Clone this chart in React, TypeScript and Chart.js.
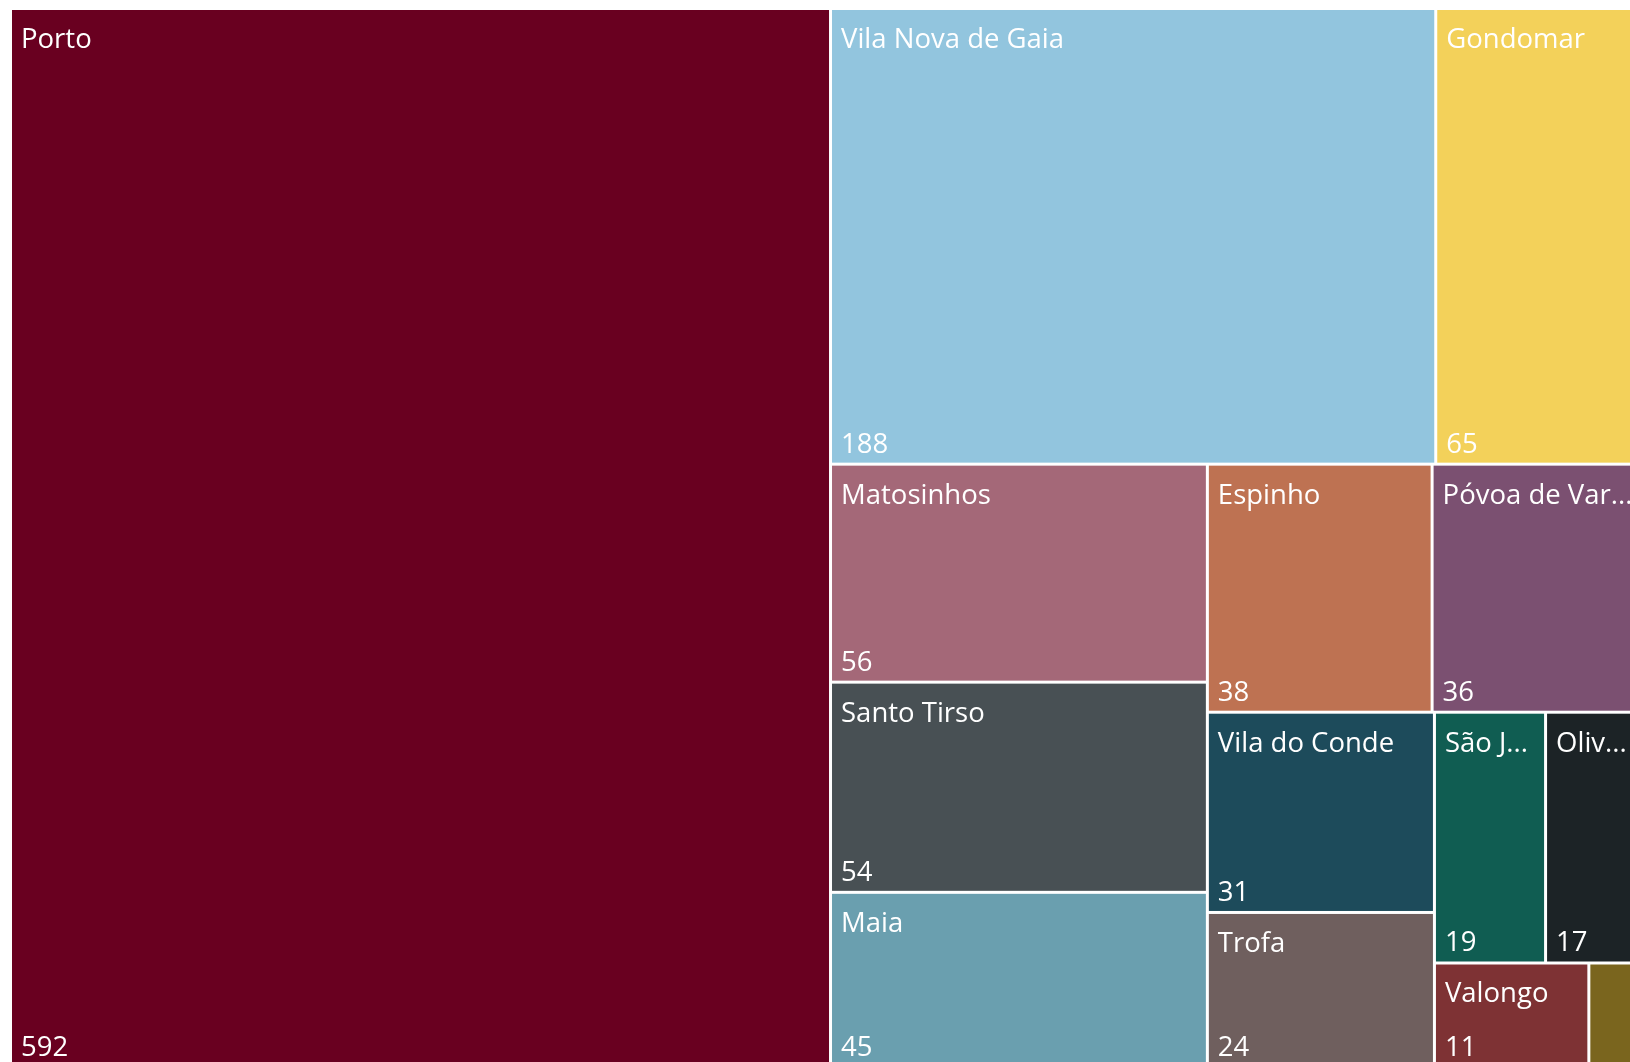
import { useEffect, useRef } from "react";
import { Chart, registerables } from "chart.js";

Chart.register(...registerables);

const categories = [
  "Porto",
  "Vila Nova de Gaia",
  "Gondomar",
  "Matosinhos",
  "Santo Tirso",
  "Maia",
  "Espinho",
  "Póvoa de Varzim",
  "Vila do Conde",
  "Trofa",
  "São João da Madeira",
  "Oliveira de Azeméis",
  "Valongo",
  "Vale de Cambra",
];

const values = [592, 188, 65, 56, 54, 45, 38, 36, 31, 24, 19, 17, 11, 4];

const colors = [
  "#690020",
  "#92C5DE",
  "#F3D15A",
  "#A46878",
  "#485054",
  "#6A9FAF",
  "#BE7252",
  "#7B5071",
  "#1D4B5B",
  "#6F5F5E",
  "#105D52",
  "#1C2326",
  "#7E3234",
  "#7A651E",
];

type Cell = { i: number; x0: number; y0: number; x1: number; y1: number };

// d3-style squarified treemap (golden ratio)
function squarify(vals: number[], X0: number, Y0: number, X1: number, Y1: number): Cell[] {
  const ratio = (1 + Math.sqrt(5)) / 2;
  const idx = vals.map((_, i) => i).sort((a, b) => vals[b] - vals[a]);
  const out: Cell[] = [];
  let x0 = X0, y0 = Y0, x1 = X1, y1 = Y1;
  let value = idx.reduce((s, i) => s + vals[i], 0);
  let i0 = 0, i1 = 0;
  const n = idx.length;
  while (i0 < n) {
    const dx = x1 - x0, dy = y1 - y0;
    let sumValue = vals[idx[i1++]];
    let minValue = sumValue, maxValue = sumValue;
    const alpha = Math.max(dy / dx, dx / dy) / (value * ratio);
    let beta = sumValue * sumValue * alpha;
    let minRatio = Math.max(maxValue / beta, beta / minValue);
    for (; i1 < n; ++i1) {
      const nv = vals[idx[i1]];
      sumValue += nv;
      if (nv < minValue) minValue = nv;
      if (nv > maxValue) maxValue = nv;
      beta = sumValue * sumValue * alpha;
      const newRatio = Math.max(maxValue / beta, beta / minValue);
      if (newRatio > minRatio) {
        sumValue -= nv;
        break;
      }
      minRatio = newRatio;
    }
    const row = idx.slice(i0, i1);
    const dice = dx < dy;
    if (dice) {
      const ny = i1 >= n ? y1 : y0 + (dy * sumValue) / value;
      let cx = x0;
      row.forEach((k, j) => {
        const nx = j === row.length - 1 ? x1 : cx + (dx * vals[k]) / sumValue;
        out.push({ i: k, x0: cx, y0: y0, x1: nx, y1: ny });
        cx = nx;
      });
      y0 = ny;
    } else {
      const nx = i1 >= n ? x1 : x0 + (dx * sumValue) / value;
      let cy = y0;
      row.forEach((k, j) => {
        const ny = j === row.length - 1 ? y1 : cy + (dy * vals[k]) / sumValue;
        out.push({ i: k, x0: x0, y0: cy, x1: nx, y1: ny });
        cy = ny;
      });
      x0 = nx;
    }
    value -= sumValue;
    i0 = i1;
  }
  return out;
}

const FONT = "27.5px 'Open Sans'";
const GAP = 1.5;
const PAD_X = 9;

function fitLabel(ctx: CanvasRenderingContext2D, text: string, avail: number): string | null {
  if (ctx.measureText(text).width <= avail) return text;
  for (let k = text.length - 1; k >= 1; k--) {
    const t = text.slice(0, k).trimEnd() + "...";
    if (ctx.measureText(t).width <= avail) return t;
  }
  return null;
}

const treemapPlugin = {
  id: "treemapCells",
  afterDatasetsDraw(chart: any) {
    const { ctx } = chart;
    const xs = chart.scales.x;
    const ys = chart.scales.y;
    const cells = squarify(values, 10.5, 8.5, 1645, 1067.5);
    ctx.save();
    cells.forEach((c) => {
      const px0 = xs.getPixelForValue(c.x0) + GAP;
      const px1 = xs.getPixelForValue(c.x1) - GAP;
      const py0 = ys.getPixelForValue(c.y0) + GAP;
      const py1 = ys.getPixelForValue(c.y1) - GAP;
      ctx.fillStyle = colors[c.i];
      ctx.fillRect(px0, py0, px1 - px0, py1 - py0);
      ctx.font = FONT;
      const avail = px1 - px0 - 2 * PAD_X;
      const label = fitLabel(ctx, categories[c.i], avail);
      if (!label) return;
      ctx.save();
      ctx.beginPath();
      ctx.rect(px0, py0, px1 - px0, py1 - py0);
      ctx.clip();
      ctx.fillStyle = "#ffffff";
      ctx.textAlign = "left";
      ctx.textBaseline = "alphabetic";
      ctx.fillText(label, px0 + PAD_X, py0 + 38);
      ctx.fillText(String(values[c.i]), px0 + PAD_X, py1 - 10);
      ctx.restore();
    });
    ctx.restore();
  },
};

export default function App() {
  const ref = useRef<HTMLCanvasElement | null>(null);
  useEffect(() => {
    if (!ref.current) return;
    const chart = new Chart(ref.current, {
      type: "scatter",
      data: {
        datasets: [
          {
            label: "Municípios",
            data: [],
            pointRadius: 0,
          },
        ],
      },
      options: {
        animation: false,
        responsive: true,
        maintainAspectRatio: false,
        layout: { padding: 0 },
        plugins: {
          legend: { display: false },
          tooltip: { enabled: false },
        },
        scales: {
          x: { type: "linear", min: 0, max: 1630, display: false },
          y: { type: "linear", min: 0, max: 1062, reverse: true, display: false },
        },
      },
      plugins: [treemapPlugin],
    });
    return () => chart.destroy();
  }, []);
  return (
    <div style={{ position: "fixed", left: 0, top: 0, width: 1630, height: 1062, background: "#ffffff" }}>
      <canvas ref={ref} />
    </div>
  );
}
